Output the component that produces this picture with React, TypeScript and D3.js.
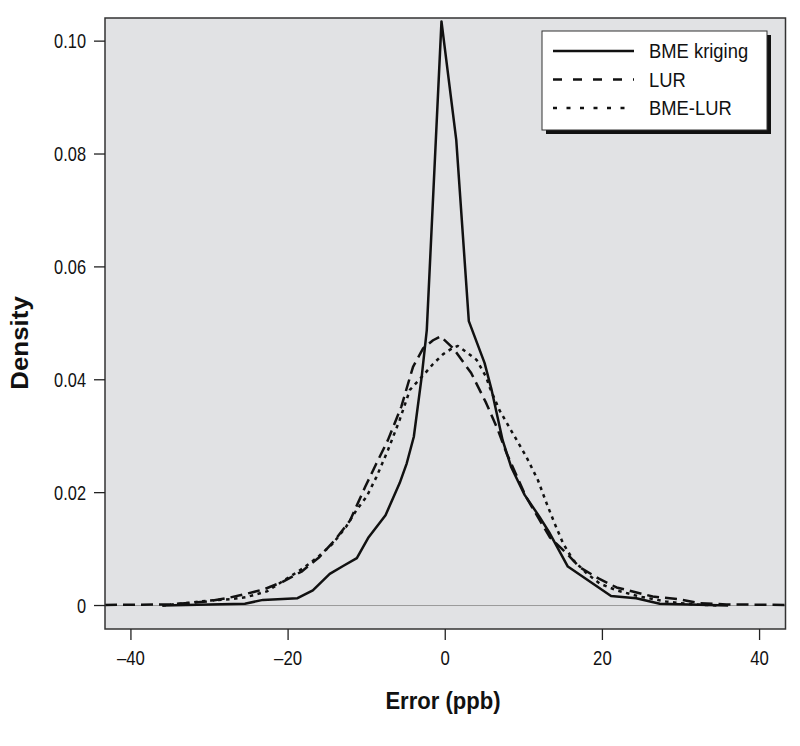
import React, { useEffect, useRef } from "react";
import * as d3 from "d3";

// error (ppb) / density
const krigingX = [-36, -25.5, -23.2, -18.8, -16.85, -14.7, -13.0, -11.25, -9.75, -7.6, -5.8, -4.9, -4.0, -3.0, -2.35, -0.48, 1.4, 3.0, 5.0, 5.9, 7.3, 8.4, 10.1, 12.0, 13.3, 15.6, 21.1, 24.3, 27.3, 36];
const krigingY = [0, 0.0003, 0.001, 0.0013, 0.0027, 0.0056, 0.007, 0.0084, 0.0121, 0.016, 0.0217, 0.0252, 0.0299, 0.0405, 0.0488, 0.1035, 0.0825, 0.0504, 0.043, 0.0382, 0.0293, 0.0245, 0.0196, 0.0157, 0.0128, 0.0069, 0.0017, 0.0013, 0.0003, 0];

const lurX = [-43.3, -35, -30.4, -27.8, -25.5, -23, -20.7, -18.3, -16.0, -14.05, -12.1, -10.2, -8.75, -7.3, -5.6, -4.1, -2.8, -1.55, -0.6, 1.0, 3.3, 5.2, 6.7, 7.8, 10.3, 13.3, 15.4, 17.1, 19.5, 21.8, 26.4, 29.8, 32.4, 35.8, 43.3];
const lurY = [0.0001, 0.0002, 0.0007, 0.0013, 0.002, 0.0029, 0.0042, 0.006, 0.0086, 0.0116, 0.0151, 0.021, 0.0252, 0.0293, 0.0352, 0.0423, 0.0456, 0.047, 0.0477, 0.0456, 0.0412, 0.0359, 0.0311, 0.027, 0.0192, 0.0121, 0.0093, 0.0068, 0.0048, 0.0032, 0.0016, 0.0011, 0.0004, 0.0002, 0.0001];

const bmeLurX = [-36, -32.5, -30, -27.4, -25.3, -22.7, -20.8, -18.1, -16.2, -14.3, -12.6, -11.3, -10.0, -8.75, -7.3, -5.8, -4.5, -2.6, -1.55, -0.3, 0.9, 1.6, 2.6, 4.0, 5.2, 5.7, 6.9, 8.6, 10.3, 11.8, 12.9, 13.9, 15.0, 16.25, 18.0, 19.65, 21.8, 24.7, 28.1, 31.5, 34.9];
const bmeLurY = [0, 0.0005, 0.0009, 0.0011, 0.0015, 0.0025, 0.0042, 0.0066, 0.0086, 0.011, 0.014, 0.0169, 0.0193, 0.0228, 0.0275, 0.0329, 0.0382, 0.0411, 0.0428, 0.0445, 0.0456, 0.046, 0.045, 0.0435, 0.0405, 0.0385, 0.0346, 0.0305, 0.0264, 0.0222, 0.0181, 0.0146, 0.011, 0.0081, 0.0057, 0.0039, 0.0027, 0.0016, 0.0007, 0.0002, 0];

const seriesNames = ["BME kriging", "LUR", "BME-LUR"];
const xTicks = [-40, -20, 0, 20, 40];
const xTickLabels = ["\u201340", "\u201320", "0", "20", "40"];
const yTicks = [0, 0.02, 0.04, 0.06, 0.08, 0.1];
const yTickLabels = ["0", "0.02", "0.04", "0.06", "0.08", "0.10"];

const font = "'Liberation Sans', Arial, sans-serif";

type G = d3.Selection<any, unknown, null, undefined>;

// condensed look: squeeze a regular face horizontally
function label(g: G, str: string, tf: string, size: number, sx: number, anchor = "start", bold = false, dy = "0") {
  g.append("text")
    .attr("transform", `${tf} scale(${sx},1)`)
    .attr("text-anchor", anchor)
    .attr("dy", dy)
    .style("font-family", font)
    .style("font-size", `${size}px`)
    .style("font-weight", bold ? "bold" : "normal")
    .style("fill", "#111")
    .text(str);
}

export default function App() {
  const ref = useRef<SVGSVGElement>(null);

  useEffect(() => {
    const svg = d3.select(ref.current);
    svg.selectAll("*").remove();

    const x = d3.scaleLinear().domain([-43.3, 43.3]).range([105, 785.5]);
    const y = d3.scaleLinear().domain([-0.00416, 0.1041]).range([629, 18]);

    svg
      .append("rect")
      .attr("x", 105)
      .attr("y", 18)
      .attr("width", 680.5)
      .attr("height", 611)
      .attr("fill", "#e1e2e4");

    // zero reference line
    svg
      .append("line")
      .attr("x1", 105)
      .attr("x2", 785.5)
      .attr("y1", y(0))
      .attr("y2", y(0))
      .attr("stroke", "#9a9a9a")
      .attr("stroke-width", 1);

    const series = [
      { xs: krigingX, ys: krigingY, dash: null, legendDash: null },
      { xs: lurX, ys: lurY, dash: "12,6", legendDash: "9,11" },
      { xs: bmeLurX, ys: bmeLurY, dash: "3.5,4.5", legendDash: "4,9.5" },
    ];

    const line = d3
      .line<[number, number]>()
      .x((d) => x(d[0]))
      .y((d) => y(d[1]));

    const plot = svg.append("g");
    series.forEach((s) => {
      const pts = s.xs.map((v, i) => [v, s.ys[i]] as [number, number]);
      plot
        .append("path")
        .attr("d", line(pts))
        .attr("fill", "none")
        .attr("stroke", "#111")
        .attr("stroke-width", 2.5)
        .attr("stroke-linejoin", "round")
        .attr("stroke-dasharray", s.dash);
    });

    // frame
    svg
      .append("rect")
      .attr("x", 105)
      .attr("y", 18)
      .attr("width", 680.5)
      .attr("height", 611)
      .attr("fill", "none")
      .attr("stroke", "#333")
      .attr("stroke-width", 1.5);

    // y axis
    const yAxis = svg.append("g");
    yTicks.forEach((t, i) => {
      yAxis
        .append("line")
        .attr("x1", 94)
        .attr("x2", 105)
        .attr("y1", y(t))
        .attr("y2", y(t))
        .attr("stroke", "#222")
        .attr("stroke-width", 1.3);
      label(yAxis, yTickLabels[i], `translate(86,${y(t)})`, 19.5, 0.84, "end", false, "0.36em");
    });

    // x axis
    const xAxis = svg.append("g");
    xTicks.forEach((t, i) => {
      xAxis
        .append("line")
        .attr("x1", x(t))
        .attr("x2", x(t))
        .attr("y1", 629)
        .attr("y2", 640)
        .attr("stroke", "#222")
        .attr("stroke-width", 1.3);
      label(xAxis, xTickLabels[i], `translate(${x(t)},665)`, 19.5, 0.86, "middle");
    });

    label(svg, "Error (ppb)", "translate(443,709)", 24, 0.92, "middle", true);
    label(svg, "Density", "translate(28,343) rotate(-90)", 24, 1.08, "middle", true);

    // legend
    const legend = svg.append("g");
    legend
      .append("rect")
      .attr("x", 546)
      .attr("y", 35)
      .attr("width", 225)
      .attr("height", 99)
      .attr("fill", "#111");
    legend
      .append("rect")
      .attr("x", 542)
      .attr("y", 31)
      .attr("width", 225)
      .attr("height", 99)
      .attr("fill", "#fff")
      .attr("stroke", "#333")
      .attr("stroke-width", 1);

    const rowY = [51, 79.5, 108];
    series.forEach((s, i) => {
      legend
        .append("line")
        .attr("x1", 553)
        .attr("x2", 634)
        .attr("y1", rowY[i])
        .attr("y2", rowY[i])
        .attr("stroke", "#111")
        .attr("stroke-width", 2.5)
        .attr("stroke-dasharray", s.legendDash);
      label(legend, seriesNames[i], `translate(649,${rowY[i]})`, 20, 0.92, "start", false, "0.36em");
    });
  }, []);

  return (
    <svg
      ref={ref}
      width={800}
      height={746}
      style={{ position: "absolute", left: 0, top: 0, background: "#fff" }}
    />
  );
}
